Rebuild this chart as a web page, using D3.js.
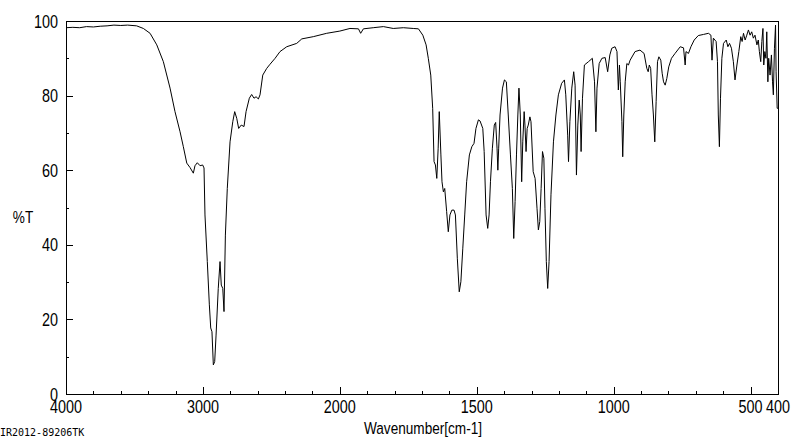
<!DOCTYPE html>
<html>
<head>
<meta charset="utf-8">
<script src="https://d3js.org/d3.v7.min.js"></script>
<style>
  body { margin: 0; background: #fff; }
  text { font-family: "Liberation Sans", Arial, sans-serif; fill: #000; }
</style>
</head>
<body>
<script>
// Wavenumbers (cm-1)
var wavenumber = [4000, 3950, 3900, 3850, 3800, 3750, 3700, 3650, 3600, 3550,
  3484, 3435, 3386, 3337, 3289, 3240, 3204, 3167, 3143, 3118,
  3094, 3070, 3058, 3041, 3021, 3002, 2992, 2985, 2968, 2953,
  2943, 2934, 2924, 2914, 2904, 2888, 2875, 2866, 2855, 2846,
  2836, 2822, 2802, 2782, 2768, 2753, 2739, 2720, 2700, 2685,
  2661, 2644, 2627, 2612, 2595, 2583, 2563, 2534, 2510, 2473,
  2437, 2388, 2315, 2278, 2194, 2096, 2000, 1963, 1932, 1924,
  1914, 1878, 1841, 1805, 1768, 1732, 1713, 1697, 1685, 1677,
  1668, 1661, 1656, 1651, 1646, 1641, 1637, 1631, 1627, 1622,
  1617, 1610, 1604, 1598, 1591, 1583, 1578, 1571, 1564, 1558,
  1551, 1544, 1537, 1527, 1518, 1510, 1503, 1494, 1488, 1478,
  1473, 1466, 1460, 1455, 1450, 1443, 1436, 1431, 1426, 1423,
  1420, 1415, 1406, 1399, 1392, 1385, 1377, 1370, 1365, 1360,
  1355, 1350, 1346, 1341, 1336, 1332, 1327, 1324, 1320, 1316,
  1312, 1306, 1302, 1294, 1287, 1280, 1275, 1270, 1265, 1260,
  1255, 1251, 1246, 1241, 1236, 1229, 1220, 1211, 1202, 1190,
  1180, 1175, 1168, 1165, 1160, 1153, 1146, 1141, 1136, 1131,
  1126, 1122, 1119, 1114, 1107, 1092, 1078, 1070, 1065, 1061,
  1053, 1043, 1031, 1022, 1014, 1007, 995, 988, 983, 979,
  976, 970, 967, 963, 958, 952, 946, 940, 922, 904,
  889, 879, 874, 870, 865, 860, 855, 850, 845, 840,
  835, 828, 823, 818, 812, 806, 799, 789, 776, 757,
  745, 739, 736, 727, 718, 706, 691, 672, 654, 645,
  641, 636, 626, 621, 618, 614, 610, 605, 599, 589,
  583, 577, 570, 563, 557, 550, 543, 536, 531, 526,
  520, 514, 508, 502, 496, 490, 484, 477, 472, 468,
  463, 459, 455, 452, 448, 444, 441, 437, 434, 429,
  424, 420, 417, 413, 409, 407, 403, 400];

// Transmittance (%T) at each wavenumber
var transmittance = [98.2, 98.3, 98.2, 98.5, 98.4, 98.6, 98.7, 98.9, 98.8, 98.9,
  98.7, 98.0, 96.7, 93.6, 89.1, 82.0, 75.7, 70.3, 66.3, 61.9,
  60.7, 59.2, 61.2, 62.0, 61.2, 61.4, 60.6, 48.0, 35.5, 23.9,
  17.7, 16.7, 7.8, 8.7, 15.8, 28.3, 35.5, 29.2, 28.3, 22.1,
  42.6, 55.1, 67.6, 73.0, 75.7, 73.9, 71.2, 72.1, 71.7, 75.7,
  79.3, 80.3, 79.3, 79.7, 79.1, 80.2, 85.5, 87.3, 88.4, 90.0,
  91.8, 93.1, 94.0, 95.2, 95.8, 96.7, 97.3, 98.0, 97.9, 96.7,
  97.9, 98.2, 98.5, 98.0, 98.2, 98.0, 97.9, 96.2, 93.6, 90.0,
  85.5, 76.6, 62.3, 61.4, 57.8, 65.9, 75.7, 64.1, 56.9, 54.2,
  55.1, 48.9, 43.5, 48.0, 49.3, 49.3, 48.0, 36.4, 27.4, 30.1,
  39.1, 48.0, 56.9, 64.1, 66.3, 67.2, 71.2, 73.5, 73.2, 71.2,
  65.0, 48.0, 44.4, 48.0, 56.9, 65.9, 72.1, 72.8, 65.9, 60.0,
  65.9, 74.8, 82.0, 84.2, 83.7, 74.8, 64.1, 55.1, 41.7, 51.6,
  64.1, 74.8, 82.0, 74.8, 56.9, 67.6, 75.7, 72.1, 65.0, 71.2,
  72.1, 74.3, 73.0, 59.6, 57.8, 49.8, 44.0, 46.2, 55.1, 65.0,
  63.2, 49.8, 35.5, 28.3, 35.5, 53.4, 67.6, 74.8, 80.2, 83.3,
  84.2, 80.2, 69.4, 62.3, 73.0, 82.0, 86.4, 82.8, 58.7, 72.1,
  78.8, 74.8, 65.0, 79.3, 88.2, 89.1, 90.0, 83.7, 70.3, 82.0,
  88.6, 90.0, 90.2, 86.4, 90.9, 92.7, 93.1, 91.8, 81.5, 88.2,
  83.7, 73.0, 63.6, 74.8, 83.7, 88.6, 88.2, 89.5, 91.8, 92.2,
  91.3, 87.3, 86.4, 88.2, 87.3, 80.2, 74.8, 67.6, 78.4, 89.1,
  90.4, 89.5, 86.0, 83.7, 82.8, 84.6, 87.7, 90.0, 91.3, 93.1,
  92.8, 88.2, 91.8, 91.3, 93.1, 94.9, 96.1, 96.4, 96.7, 96.2,
  89.5, 95.4, 94.5, 89.1, 74.8, 66.3, 79.3, 90.0, 94.0, 94.9,
  93.1, 94.0, 92.7, 89.1, 84.2, 88.2, 91.8, 95.8, 94.5, 96.7,
  94.9, 96.2, 97.6, 96.2, 97.1, 95.4, 96.2, 93.6, 94.9, 91.8,
  89.1, 94.5, 98.0, 88.2, 91.8, 90.0, 97.1, 83.7, 90.0, 85.5,
  90.9, 83.7, 80.2, 92.7, 98.9, 86.4, 76.6, 76.6];

// Tick labels
var xLabels = [4000, 3000, 2000, 1500, 1000, 500, 400];
var yLabels = [0, 20, 40, 60, 80, 100];

var svgWidth = 800;
var svgHeight = 441;

// plot frame edges (pixels)
var plotLeft = 66, plotRight = 778, plotTop = 21, plotBottom = 394;

// narrow the font horizontally, like the instrument's bitmap font
var squeeze = 0.8;

var svg = d3.select("body")
  .append("svg")
  .attr("width", svgWidth)
  .attr("height", svgHeight);

// x scale changes at 2000 cm-1 (double expansion below 2000)
var xScale = d3.scaleLinear()
  .domain([4000, 2000, 400])
  .range([plotLeft, plotLeft + (plotRight - plotLeft) * 10 / 26, plotRight]);

var yScale = d3.scaleLinear()
  .domain([0, 100])
  .range([plotBottom, plotTop]);

// minor ticks: 200 steps above 2000, 100 steps below
var xMinor = d3.range(4000, 2000, -200).concat(d3.range(2000, 399, -100));
var yMinor = d3.range(0, 101, 10);

svg.append("g")
  .selectAll("line")
  .data(xMinor)
  .enter()
  .append("line")
  .attr("x1", d => Math.round(xScale(d)) + 0.5)
  .attr("x2", d => Math.round(xScale(d)) + 0.5)
  .attr("y1", plotBottom)
  .attr("y2", d => xLabels.indexOf(d) >= 0 ? plotBottom - 7 : plotBottom - 3)
  .attr("stroke", "#000");

svg.append("g")
  .selectAll("line")
  .data(yMinor)
  .enter()
  .append("line")
  .attr("x1", plotLeft)
  .attr("x2", d => yLabels.indexOf(d) >= 0 ? plotLeft + 7 : plotLeft + 3)
  .attr("y1", d => Math.round(yScale(d)) + 0.5)
  .attr("y2", d => Math.round(yScale(d)) + 0.5)
  .attr("stroke", "#000");

// frame
svg.append("rect")
  .attr("x", plotLeft + 0.5)
  .attr("y", plotTop + 0.5)
  .attr("width", plotRight - plotLeft)
  .attr("height", plotBottom - plotTop)
  .attr("fill", "none")
  .attr("stroke", "#000");

// spectrum line
var points = d3.zip(wavenumber, transmittance);

var drawLine = d3.line()
  .x(d => xScale(d[0]))
  .y(d => yScale(d[1]));

svg.append("path")
  .attr("d", drawLine(points))
  .attr("fill", "none")
  .attr("stroke", "#000")
  .attr("stroke-width", 1);

// tick labels
svg.append("g")
  .selectAll("text")
  .data(xLabels)
  .enter()
  .append("text")
  .attr("transform", d => `translate(${xScale(d)}, 413) scale(${squeeze}, 1)`)
  .attr("text-anchor", "middle")
  .style("font-size", "18px")
  .text(d => d);

svg.append("g")
  .selectAll("text")
  .data(yLabels)
  .enter()
  .append("text")
  .attr("transform", d => `translate(58, ${yScale(d) + 6.5}) scale(${squeeze}, 1)`)
  .attr("text-anchor", "end")
  .style("font-size", "18px")
  .text(d => d);

// axis titles
svg.append("text")
  .attr("transform", `translate(423, 434) scale(${squeeze}, 1)`)
  .attr("text-anchor", "middle")
  .style("font-size", "17px")
  .text("Wavenumber[cm-1]");

svg.append("text")
  .attr("transform", `translate(23, 223) scale(${squeeze}, 1)`)
  .attr("text-anchor", "middle")
  .style("font-size", "17px")
  .text("%T");

svg.append("text")
  .attr("x", 0)
  .attr("y", 436)
  .style("font-family", "'DejaVu Sans Mono', monospace")
  .style("font-size", "10px")
  .text("IR2012-89206TK");
</script>
</body>
</html>
